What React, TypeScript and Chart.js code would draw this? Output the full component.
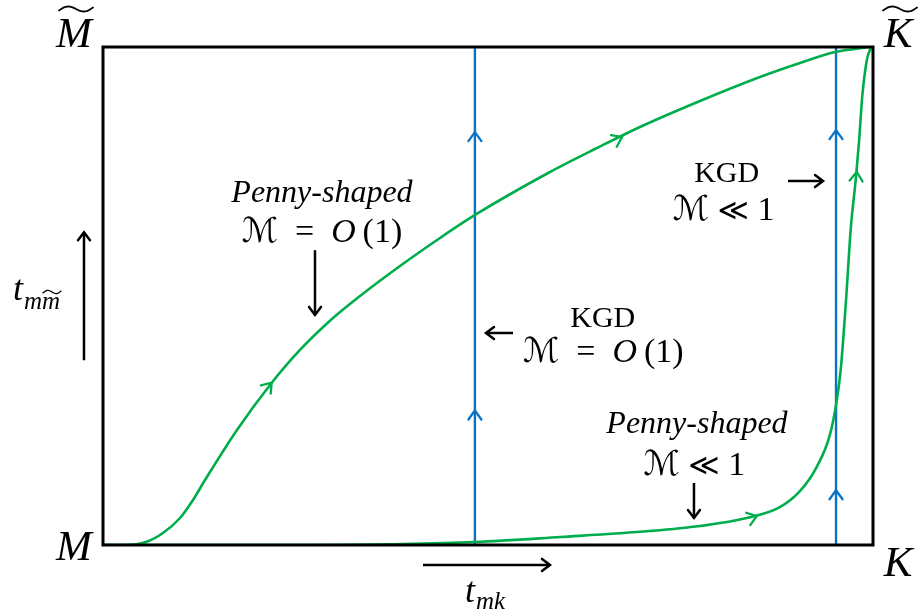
import React, { useEffect, useRef } from "react";
import { Chart, registerables } from "chart.js";

Chart.register(...registerables);

const W = 920;
const H = 616;

// Normalised time plane: x = t_mk, y = t_mm~ (both 0..1)
const kgdTrackA = [
  { x: 0.483, y: 0 },
  { x: 0.483, y: 1 },
];
const kgdTrackB = [
  { x: 0.952, y: 0 },
  { x: 0.952, y: 1 },
];
const pennyUpperPath = [
  { x: 0.0, y: 0.0 },
  { x: 0.0286, y: 0.0 },
  { x: 0.0558, y: 0.006 },
  { x: 0.0779, y: 0.0241 },
  { x: 0.1, y: 0.0542 },
  { x: 0.1169, y: 0.0904 },
  { x: 0.1325, y: 0.1305 },
  { x: 0.174, y: 0.2309 },
  { x: 0.2169, y: 0.3213 },
  { x: 0.2558, y: 0.3916 },
  { x: 0.2987, y: 0.4558 },
  { x: 0.3338, y: 0.5 },
  { x: 0.3857, y: 0.5602 },
  { x: 0.4377, y: 0.6165 },
  { x: 0.4831, y: 0.6627 },
  { x: 0.5805, y: 0.749 },
  { x: 0.6416, y: 0.7972 },
  { x: 0.6974, y: 0.8394 },
  { x: 0.7753, y: 0.8916 },
  { x: 0.8532, y: 0.9398 },
  { x: 0.9052, y: 0.9679 },
  { x: 0.9506, y: 0.99 },
  { x: 0.9961, y: 1.0 },
];
const pennyLowerPath = [
  { x: 0.0, y: 0.0 },
  { x: 0.26, y: 0.0 },
  { x: 0.483, y: 0.006 },
  { x: 0.594, y: 0.016 },
  { x: 0.71, y: 0.028 },
  { x: 0.775, y: 0.038 },
  { x: 0.836, y: 0.054 },
  { x: 0.879, y: 0.076 },
  { x: 0.905, y: 0.108 },
  { x: 0.927, y: 0.157 },
  { x: 0.944, y: 0.221 },
  { x: 0.953, y: 0.291 },
  { x: 0.958, y: 0.351 },
  { x: 0.965, y: 0.492 },
  { x: 0.971, y: 0.633 },
  { x: 0.978, y: 0.74 },
  { x: 0.982, y: 0.813 },
  { x: 0.986, y: 0.9 },
  { x: 0.992, y: 0.974 },
  { x: 0.997, y: 0.998 },
];

// Direction markers along each track: dataset index + tip position
const trackArrows = [
  { ds: 2, x: 0.483, y: 0.829 },
  { ds: 2, x: 0.483, y: 0.27 },
  { ds: 3, x: 0.952, y: 0.833 },
  { ds: 3, x: 0.952, y: 0.11 },
  { ds: 0, x: 0.219, y: 0.326 },
  { ds: 0, x: 0.674, y: 0.8193 },
  { ds: 1, x: 0.849, y: 0.058 },
  { ds: 1, x: 0.979, y: 0.749 },
];

// Pointer arrows (tail -> head) in plane coordinates
const pointerArrows = [
  { x0: -0.0247, y0: 0.371, x1: -0.0247, y1: 0.628 },
  { x0: 0.4156, y0: -0.04, x1: 0.5805, y1: -0.04 },
  { x0: 0.2753, y0: 0.592, x1: 0.2753, y1: 0.462 },
  { x0: 0.5325, y0: 0.4257, x1: 0.4974, y1: 0.4257 },
  { x0: 0.7675, y0: 0.1245, x1: 0.7675, y1: 0.0542 },
  { x0: 0.8896, y0: 0.731, x1: 0.9351, y1: 0.731 },
];

const BLUE = "#0a72c4";
const GREEN = "#00ad4c";
const SERIF = "'Liberation Serif', 'DejaVu Serif', serif";
const SCRIPT = "'DejaVu Serif', 'DejaVu Sans', serif";

type Run = { t: string; f: string };

const upright = (s: number) => `${s}px ${SERIF}`;
const italic = (s: number) => `italic ${s}px ${SERIF}`;
const script = (s: number) => `${s}px ${SCRIPT}`;
const rel = (s: number) => `${s}px 'DejaVu Sans', sans-serif`;

const mathO1 = (s: number): Run[] => [
  { t: "\u2133", f: script(s) },
  { t: "\u2002=\u2002", f: upright(s) },
  { t: "O", f: italic(s) },
  { t: "\u2009(1)", f: upright(s) },
];
const mathSmall = (s: number): Run[] => [
  { t: "\u2133", f: script(s) },
  { t: "\u2005", f: upright(s) },
  { t: "\u226A", f: rel(s - 4) },
  { t: "\u2005", f: upright(s) },
  { t: "1", f: upright(s) },
];

// Regime annotations: centre x, baseline y (plane coordinates)
const regimeLabels = [
  { x: 0.2844, y: 0.689, runs: [{ t: "Penny-shaped", f: italic(32) }] },
  { x: 0.2844, y: 0.608, runs: mathO1(34) },
  { x: 0.649, y: 0.438, runs: [{ t: "KGD", f: upright(30) }] },
  { x: 0.6497, y: 0.368, runs: mathO1(34) },
  { x: 0.7714, y: 0.225, runs: [{ t: "Penny-shaped", f: italic(32) }] },
  { x: 0.768, y: 0.141, runs: mathSmall(34) },
  { x: 0.81, y: 0.729, runs: [{ t: "KGD", f: upright(30) }] },
  { x: 0.806, y: 0.653, runs: mathSmall(34) },
];

// Vertex labels of the parametric space
const vertexLabels = [
  { t: "M", x: -0.0377, y: 1.0, tilde: true },
  { t: "K", x: 1.0325, y: 1.0, tilde: true },
  { t: "M", x: -0.0377, y: -0.03, tilde: false },
  { t: "K", x: 1.0325, y: -0.062, tilde: false },
];

function drawRuns(ctx: CanvasRenderingContext2D, runs: Run[], cx: number, by: number) {
  let total = 0;
  const widths = runs.map((r) => {
    ctx.font = r.f;
    const w = ctx.measureText(r.t).width;
    total += w;
    return w;
  });
  let x = cx - total / 2;
  ctx.textAlign = "left";
  ctx.textBaseline = "alphabetic";
  runs.forEach((r, i) => {
    ctx.font = r.f;
    ctx.fillText(r.t, x, by);
    x += widths[i];
  });
}

function drawTilde(ctx: CanvasRenderingContext2D, cx: number, cy: number, w: number, amp: number, lw: number) {
  ctx.save();
  ctx.beginPath();
  const n = 30;
  for (let i = 0; i <= n; i++) {
    const t = i / n;
    const x = cx - w / 2 + w * t;
    const y = cy - amp * Math.sin(2 * Math.PI * t) + amp * 0.45 * (1 - 2 * t);
    if (i === 0) ctx.moveTo(x, y);
    else ctx.lineTo(x, y);
  }
  ctx.lineWidth = lw;
  ctx.lineCap = "round";
  ctx.strokeStyle = "#000";
  ctx.stroke();
  ctx.restore();
}

function chevron(ctx: CanvasRenderingContext2D, x: number, y: number, ang: number, len: number, half: number, color: string, lw: number) {
  const bx = Math.cos(ang);
  const by = Math.sin(ang);
  const nx = -by;
  const ny = bx;
  ctx.save();
  ctx.beginPath();
  ctx.moveTo(x - bx * len + nx * half, y - by * len + ny * half);
  ctx.lineTo(x, y);
  ctx.lineTo(x - bx * len - nx * half, y - by * len - ny * half);
  ctx.strokeStyle = color;
  ctx.lineWidth = lw;
  ctx.lineCap = "round";
  ctx.lineJoin = "miter";
  ctx.stroke();
  ctx.restore();
}

const diagramPlugin = {
  id: "diagramDecor",
  afterDatasetsDraw(chart: any) {
    const ctx: CanvasRenderingContext2D = chart.ctx;
    const xs = chart.scales.x;
    const ys = chart.scales.y;
    const px = (v: number) => xs.getPixelForValue(v);
    const py = (v: number) => ys.getPixelForValue(v);
    const { left, right, top, bottom } = chart.chartArea;

    // frame
    ctx.save();
    ctx.strokeStyle = "#000";
    ctx.lineWidth = 3;
    ctx.strokeRect(left, top, right - left, bottom - top);
    ctx.restore();

    // flow direction markers on the tracks
    trackArrows.forEach((a) => {
      const ds = chart.data.datasets[a.ds];
      const pts = (ds.data as { x: number; y: number }[]).map((p) => ({ x: px(p.x), y: py(p.y) }));
      const tx = px(a.x);
      const ty = py(a.y);
      let best = 0;
      let bestD = Infinity;
      for (let i = 0; i < pts.length - 1; i++) {
        const p = pts[i];
        const q = pts[i + 1];
        const dx = q.x - p.x;
        const dy = q.y - p.y;
        const l2 = dx * dx + dy * dy || 1;
        let t = ((tx - p.x) * dx + (ty - p.y) * dy) / l2;
        t = Math.max(0, Math.min(1, t));
        const cx = p.x + t * dx;
        const cy = p.y + t * dy;
        const d = (cx - tx) ** 2 + (cy - ty) ** 2;
        if (d < bestD) {
          bestD = d;
          best = i;
        }
      }
      const p = pts[best];
      const q = pts[best + 1];
      const ang = Math.atan2(q.y - p.y, q.x - p.x);
      chevron(ctx, tx, ty, ang, 9, 6.5, ds.borderColor as string, 2.3);
    });

    // pointer arrows
    pointerArrows.forEach((a) => {
      const x0 = px(a.x0);
      const y0 = py(a.y0);
      const x1 = px(a.x1);
      const y1 = py(a.y1);
      ctx.save();
      ctx.beginPath();
      ctx.moveTo(x0, y0);
      ctx.lineTo(x1, y1);
      ctx.strokeStyle = "#000";
      ctx.lineWidth = 2.5;
      ctx.stroke();
      ctx.restore();
      chevron(ctx, x1, y1, Math.atan2(y1 - y0, x1 - x0), 8, 6, "#000", 2.5);
    });

    ctx.save();
    ctx.fillStyle = "#000";

    // regime labels
    regimeLabels.forEach((l) => drawRuns(ctx, l.runs, px(l.x), py(l.y)));

    // vertex labels
    vertexLabels.forEach((l) => {
      ctx.font = italic(43);
      ctx.textAlign = "center";
      ctx.textBaseline = "alphabetic";
      const cx = px(l.x);
      const by = py(l.y);
      ctx.fillText(l.t, cx, by);
      if (l.tilde) drawTilde(ctx, cx + 2, by - 38, 34, 3.2, 1.8);
    });

    // axis symbols t_mm~ and t_mk
    const tyx = px(-0.117);
    const tyy = py(0.492);
    ctx.textAlign = "left";
    ctx.font = italic(36);
    ctx.fillText("t", tyx, tyy);
    let w = ctx.measureText("t").width;
    ctx.font = italic(25);
    ctx.fillText("m", tyx + w + 1, tyy + 9);
    const wm = ctx.measureText("m").width;
    ctx.fillText("m", tyx + w + 1 + wm, tyy + 9);
    drawTilde(ctx, tyx + w + 1 + wm * 1.5 + 1, tyy - 8, wm, 2, 1.3);

    const txx = px(0.47);
    const txy = py(-0.114);
    ctx.font = italic(36);
    ctx.fillText("t", txx, txy);
    w = ctx.measureText("t").width;
    ctx.font = italic(25);
    ctx.fillText("mk", txx + w + 1, txy + 7);
    ctx.restore();
  },
};

export default function App() {
  const ref = useRef<HTMLCanvasElement>(null);

  useEffect(() => {
    const canvas = ref.current;
    if (!canvas) return;
    const chart = new Chart(canvas, {
      type: "line",
      data: {
        datasets: [
          { label: "penny O(1)", data: pennyUpperPath, borderColor: GREEN, borderWidth: 2.6, cubicInterpolationMode: "monotone", pointRadius: 0, fill: false },
          { label: "penny small", data: pennyLowerPath, borderColor: GREEN, borderWidth: 2.6, cubicInterpolationMode: "monotone", pointRadius: 0, fill: false },
          { label: "KGD O(1)", data: kgdTrackA, borderColor: BLUE, borderWidth: 2.4, tension: 0, pointRadius: 0, fill: false },
          { label: "KGD small", data: kgdTrackB, borderColor: BLUE, borderWidth: 2.4, tension: 0, pointRadius: 0, fill: false },
        ],
      },
      options: {
        responsive: false,
        animation: false,
        events: [],
        layout: { padding: { left: 103, right: 47, top: 47, bottom: 71 } },
        scales: {
          x: { type: "linear", min: 0, max: 1, display: false },
          y: { type: "linear", min: 0, max: 1, display: false },
        },
        plugins: { legend: { display: false }, tooltip: { enabled: false } },
      },
      plugins: [diagramPlugin],
    });
    return () => chart.destroy();
  }, []);

  return (
    <div style={{ position: "fixed", left: 0, top: 0, width: W, height: H, background: "#fff" }}>
      <canvas ref={ref} width={W} height={H} style={{ display: "block" }} />
    </div>
  );
}
